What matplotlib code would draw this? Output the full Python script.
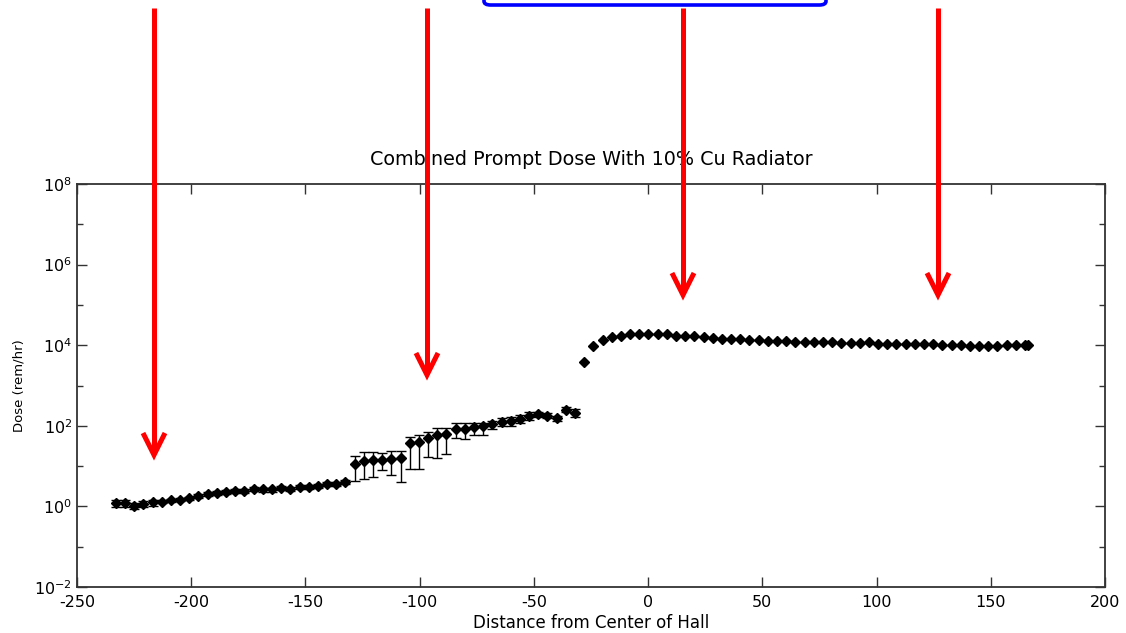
import numpy as np
import matplotlib
matplotlib.use("Agg")
import matplotlib.pyplot as plt
from matplotlib.lines import Line2D
from matplotlib.patches import FancyBboxPatch
from matplotlib.ticker import FixedLocator, LogFormatterMathtext, NullFormatter

plt.rcParams['font.family'] = ['DejaVu Sans']
plt.rcParams['axes.unicode_minus'] = False

# ---------------- data ----------------
# upstream part (with error bars)
x_up = np.linspace(-233, -32, 51)
y_up = [1.21, 1.21, 1.03, 1.18, 1.25, 1.32, 1.43, 1.48, 1.61, 1.83,
        2.02, 2.21, 2.26, 2.44, 2.48, 2.73, 2.63, 2.63, 2.89, 2.73,
        3.06, 3.06, 3.25, 3.58, 3.70, 4.0,
        11.4, 13.5, 14.3, 14.1, 14.9, 16.1, 37.2, 39.4, 49.5, 58.8,
        64.4, 85.7, 85.7, 90.8, 96.2, 110, 126, 131, 147, 177,
        191, 177, 155, 250, 210]
y_up_lo = [0.98, 0.98, 0.86, 0.97, 1.04, 1.2, 1.3, 1.36, 1.46, 1.6,
           1.8, 1.96, 2.0, 2.16, 2.2, 2.43, 2.34, 2.34, 2.57, 2.43,
           2.72, 2.72, 2.89, 3.2, 3.3, 3.56,
           4.15, 4.76, 5.33, 7.78, 6.08, 4.0, 8.43, 8.43, 17.3, 15.8,
           19.9, 49.5, 46.7, 57.5, 59.8, 82.8, 96.2, 100, 117, 141,
           165, 152, 133, 214, 164]
y_up_hi = [1.44, 1.44, 1.2, 1.39, 1.46, 1.44, 1.56, 1.6, 1.76, 2.06,
           2.24, 2.46, 2.52, 2.72, 2.76, 3.03, 2.92, 2.92, 3.21, 3.03,
           3.4, 3.4, 3.61, 3.96, 4.1, 4.44,
           18.3, 22.6, 22.6, 21.0, 24.0, 24.0, 52.4, 59.4, 68.2, 87.7,
           87.7, 116.7, 116.7, 116.7, 116.7, 135, 155, 164, 188, 226,
           217, 202, 177, 301, 264]

# downstream part
x_dn = list(np.linspace(-28, 165, 49)) + [166.5]
y_dn = [3873, 9290, 13390, 16150, 17400, 18440, 18440, 18440, 18440, 18440,
        17400, 17100, 16440, 15870, 15260, 14170, 14170, 14170, 13620, 13390,
        12640, 12640, 12640, 11940, 11940, 11940, 11940, 11940, 11270, 11100,
        11300, 11670, 11020, 11020, 11020, 11020, 10640, 10640, 10640, 10230,
        10230, 10230, 9660, 9660, 9660, 9660, 10230, 10230, 10230, 10230]

x_ticks = [-250, -200, -150, -100, -50, 0, 50, 100, 150, 200]
y_major = [1e-2, 1e0, 1e2, 1e4, 1e6, 1e8]
y_minor = [1e-1, 1e1, 1e3, 1e5, 1e7]

title = "Combined Prompt Dose With 10% Cu Radiator"
xlabel = "Distance from Center of Hall"
ylabel = "Dose (rem/hr)"

# ---------------- figure ----------------
W, H = 1126, 633
fig = plt.figure(figsize=(W / 100, H / 100), dpi=100)
fig.patch.set_facecolor('white')
ax = fig.add_axes([77 / W, 1 - 587 / H, (1105 - 77) / W, (587 - 184) / H])

y_up_arr = np.array(y_up)
yerr = [y_up_arr - np.array(y_up_lo), np.array(y_up_hi) - y_up_arr]
ax.errorbar(x_up, y_up, yerr=yerr, fmt='D', color='black', ms=5.0,
            ecolor='black', elinewidth=1.0, capsize=3.3, capthick=1.0, zorder=3)
ax.plot(x_dn, y_dn, 'D', color='black', ms=5.0, zorder=3)

ax.set_yscale('log')
ax.set_xlim(-250, 200)
ax.set_ylim(1e-2, 1e8)
ax.set_xticks(x_ticks)
ax.set_xticklabels([str(t) for t in x_ticks])
ax.yaxis.set_major_locator(FixedLocator(y_major))
ax.yaxis.set_minor_locator(FixedLocator(y_minor))
ax.yaxis.set_major_formatter(LogFormatterMathtext())
ax.yaxis.set_minor_formatter(NullFormatter())
ax.tick_params(axis='both', which='major', direction='in', length=7, width=1,
               labelsize=11.5, color='#333333', top=True, right=True)
ax.tick_params(axis='y', which='minor', direction='in', length=4, width=1,
               color='#333333', right=True)
ax.tick_params(axis='x', which='major', pad=6)
for s in ax.spines.values():
    s.set_color('#333333')
    s.set_linewidth(1.3)

ax.set_title(title, fontsize=13.8, pad=14)
ax.set_xlabel(xlabel, fontsize=12, labelpad=3)
ax.set_ylabel(ylabel, fontsize=9.5, labelpad=6)

# ---------------- annotations (figure pixel coordinates) ----------------
def fx(px):
    return px / W

def fy(py):
    return 1 - py / H

red = '#ff0000'
arrows = [(154, 8, 455), (427, 8, 375), (683, 8, 295), (938, 8, 295)]
for xa, ytop, ytip in arrows:
    fig.add_artist(Line2D([fx(xa), fx(xa)], [fy(ytop), fy(ytip - 3)],
                          color=red, lw=3.6, solid_capstyle='butt', zorder=10))
    fig.add_artist(Line2D([fx(xa - 11), fx(xa), fx(xa + 11)],
                          [fy(ytip - 22), fy(ytip), fy(ytip - 22)],
                          color=red, lw=3.6, solid_joinstyle='miter',
                          solid_capstyle='butt', zorder=10))

box = FancyBboxPatch((fx(484), fy(5)), fx(826) - fx(484), 0.05,
                     boxstyle="round,pad=0,rounding_size=0.006",
                     transform=fig.transFigure, facecolor='white',
                     edgecolor='#0000ff', lw=2.6, zorder=10, clip_on=False)
fig.add_artist(box)

fig.savefig('out.png', dpi=100)
